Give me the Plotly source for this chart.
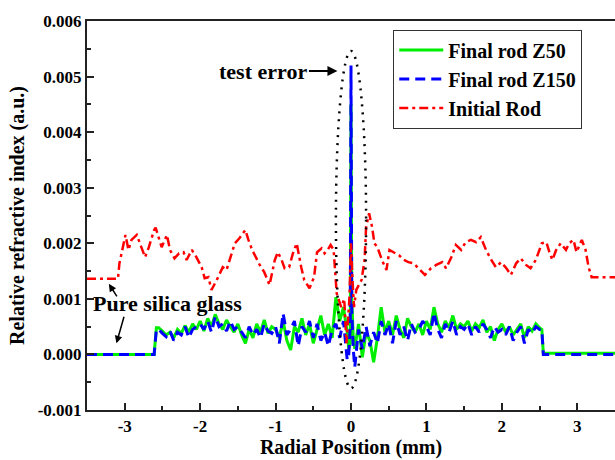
import numpy as np
import plotly.graph_objects as go

# ---------------- data (refractive index values in units of 1e-3) ----------------
rod_x = [-3.50, -2.61, -2.58,
         -2.55, -2.50, -2.45, -2.40, -2.35, -2.30, -2.25, -2.20, -2.15, -2.10, -2.05, -2.00,
         -1.95, -1.90, -1.85, -1.80, -1.75, -1.70, -1.65, -1.60, -1.55, -1.50,
         -1.45, -1.40, -1.35, -1.30, -1.25, -1.20, -1.15, -1.10, -1.05, -1.00,
         -0.95, -0.90, -0.85, -0.80, -0.75, -0.70, -0.65, -0.60, -0.55, -0.50,
         -0.45, -0.40, -0.35, -0.30, -0.25,
         -0.20, -0.15, -0.10, -0.05,
         -0.03, -0.01, 0.00, 0.01, 0.03,
         0.05, 0.10, 0.15, 0.20, 0.25, 0.30, 0.35, 0.40, 0.45,
         0.50, 0.55, 0.60, 0.65, 0.70, 0.75, 0.80, 0.85, 0.90, 0.95,
         1.00, 1.05, 1.10, 1.15, 1.20, 1.25, 1.30, 1.35, 1.40, 1.45,
         1.50, 1.55, 1.60, 1.65, 1.70, 1.75, 1.80, 1.85, 1.90, 1.95,
         2.00, 2.05, 2.10, 2.15, 2.20, 2.25, 2.30, 2.35, 2.40, 2.45, 2.50,
         2.53, 2.55, 3.50]

z50_vals = [0.0, 0.0, 0.48,
            0.48, 0.42, 0.35, 0.40, 0.30, 0.45, 0.38, 0.52, 0.40, 0.55, 0.45, 0.60,
            0.42, 0.65, 0.50, 0.72, 0.55, 0.45, 0.62, 0.50, 0.40, 0.55,
            0.35, 0.20, 0.45, 0.30, 0.55, 0.40, 0.62, 0.38, 0.50, 0.45,
            0.30, 0.60, 0.25, 0.08, 0.50, 0.40, 0.65, 0.35, 0.55, 0.20,
            0.45, 0.70, 0.35, 0.55, 0.30,
            1.03, 0.60, 0.85, 0.40,
            0.10, 0.20, 4.50, 1.00, 0.30,
            0.10, 0.55, -0.05, 0.40, 0.25, -0.14, 0.30, 0.85, 0.40,
            0.60, 0.35, 0.70, 0.45, 0.30, 0.65, 0.50, 0.40, 0.55, 0.35,
            0.60, 0.45, 0.85, 0.55, 0.40, 0.60, 0.48, 0.70, 0.45, 0.55,
            0.50, 0.60, 0.42, 0.55, 0.48, 0.62, 0.40, 0.50, 0.25, 0.45,
            0.55, 0.40, 0.50, 0.35, 0.45, 0.55, 0.30, 0.50, 0.42, 0.55, 0.48,
            0.45, 0.02, 0.02]

z150_vals = [0.0, 0.0, 0.45,
             0.45, 0.38, 0.32, 0.42, 0.25, 0.40, 0.35, 0.50, 0.30, 0.45, 0.50, 0.55,
             0.45, 0.60, 0.40, 0.68, 0.50, 0.55, 0.42, 0.60, 0.45, 0.50,
             0.40, 0.30, 0.50, 0.35, 0.45, 0.30, 0.55, 0.42, 0.38, 0.50,
             0.20, 0.74, 0.35, 0.45, 0.60, 0.15, 0.50, 0.40, 0.60, 0.30,
             0.55, 0.25, 0.40, 0.15, 0.45,
             0.55, 0.30, 0.60, -0.10,
             0.00, 0.50, 5.20, 0.80, 0.10,
             -0.23, 0.45, 0.10, 0.50, 0.15, 0.40, 0.20, 0.60, 0.35,
             0.55, 0.20, 0.60, 0.35, 0.50, 0.25, 0.55, 0.40, 0.45, 0.60,
             0.50, 0.35, 0.75, 0.45, 0.30, 0.55, 0.40, 0.60, 0.35, 0.50,
             0.45, 0.55, 0.35, 0.50, 0.40, 0.55, 0.45, 0.30, 0.50, 0.40,
             0.45, 0.35, 0.50, 0.25, 0.40, 0.50, 0.20, 0.45, 0.38, 0.50, 0.45,
             0.45, 0.00, 0.00]

red_x = [-3.50, -3.09, -3.07, -3.01, -2.99, -2.95, -2.91, -2.84, -2.80, -2.73,
         -2.68, -2.61, -2.59, -2.55, -2.51, -2.44, -2.40, -2.34, -2.28, -2.22,
         -2.18, -2.11, -2.05, -1.98, -1.94, -1.89, -1.85, -1.78, -1.70, -1.65,
         -1.54, -1.48, -1.40, -1.36, -1.31, -1.21, -1.15, -1.08, -1.01, -0.97,
         -0.92, -0.88, -0.82, -0.77, -0.72, -0.66, -0.62, -0.55, -0.49, -0.45,
         -0.39, -0.35, -0.31, -0.27, -0.23, -0.19, -0.13, -0.09, -0.06, -0.02,
         0.00, 0.02, 0.04, 0.07, 0.14, 0.18, 0.20, 0.24, 0.28, 0.31,
         0.35, 0.41, 0.47, 0.51, 0.57, 0.64, 0.70, 0.76, 0.83, 0.89,
         0.98, 1.06, 1.13, 1.21, 1.26, 1.33, 1.39, 1.46, 1.52, 1.59,
         1.66, 1.72, 1.79, 1.86, 1.92, 1.99, 2.06, 2.12, 2.19, 2.25,
         2.32, 2.38, 2.45, 2.53, 2.59, 2.63, 2.67, 2.72, 2.78, 2.85,
         2.89, 2.95, 2.99, 3.06, 3.11, 3.15, 3.19, 3.50]

red_vals = [1.36, 1.36, 1.64, 2.06, 2.15, 1.88, 2.06, 2.15, 2.00, 1.75,
            1.93, 2.24, 2.28, 2.11, 1.93, 2.15, 1.88, 1.73, 1.82, 1.84,
            1.70, 1.88, 1.75, 1.57, 1.37, 1.39, 1.16, 1.34, 1.57, 1.52,
            2.00, 2.09, 2.24, 2.06, 1.88, 1.61, 1.48, 1.25, 1.70, 1.84,
            1.70, 1.55, 1.57, 1.82, 2.00, 1.57, 1.34, 1.19, 1.39, 1.84,
            1.91, 1.82, 1.88, 1.97, 1.88, 1.10, 0.85, 1.00, 0.20, 1.03,
            2.00, 1.34, 0.85, 1.16, 1.34, 1.70, 2.29, 2.54, 2.29, 2.00,
            1.93, 1.70, 1.52, 1.88, 1.84, 1.78, 1.70, 1.66, 1.64, 1.55,
            1.43, 1.55, 1.61, 1.66, 1.55, 1.75, 1.97, 1.88, 2.02, 2.06,
            2.02, 2.11, 1.88, 1.70, 1.57, 1.66, 1.55, 1.43, 1.64, 1.73,
            1.61, 1.55, 1.70, 2.00, 2.02, 1.84, 1.70, 1.88, 2.00, 1.88,
            2.00, 2.06, 1.84, 2.06, 1.88, 1.57, 1.39, 1.39]

series_names = ["Final rod Z50", "Final rod Z150", "Initial Rod"]

x_tickvals = [-3, -2, -1, 0, 1, 2, 3]
x_ticktext = ["-3", "-2", "-1", "0", "1", "2", "3"]
y_tickvals = [-0.001, 0.000, 0.001, 0.002, 0.003, 0.004, 0.005, 0.006]
y_ticktext = ["-0.001", "0.000", "0.001", "0.002", "0.003", "0.004", "0.005", "0.006"]

SCALE = 1e-3
FONT = "Liberation Serif"

fig = go.Figure()
fig.add_trace(go.Scatter(x=rod_x, y=np.array(z50_vals) * SCALE, mode="lines",
                         name=series_names[0],
                         line=dict(color="#00ee00", width=3)))
fig.add_trace(go.Scatter(x=rod_x, y=np.array(z150_vals) * SCALE, mode="lines",
                         name=series_names[1],
                         line=dict(color="#0000ff", width=3, dash="10px,6px")))
fig.add_trace(go.Scatter(x=red_x, y=np.array(red_vals) * SCALE, mode="lines",
                         name=series_names[2],
                         line=dict(color="#ff0000", width=2.5, dash="9px,4px,3px,4px")))

# ellipse around the test error
fig.add_shape(type="circle", xref="x", yref="y", x0=-0.2, x1=0.2,
              y0=-0.00061, y1=0.00546,
              line=dict(color="black", width=2.5, dash="2px,6px"))

fig.add_annotation(x=-0.18, y=0.00510, xref="x", yref="y", text="test error",
                   showarrow=True, ax=-74, ay=0, arrowhead=2, arrowsize=1,
                   arrowwidth=2, arrowcolor="black",
                   font=dict(family=FONT, size=22, color="black", weight="bold"))
fig.add_annotation(x=-2.43, y=0.00092, xref="x", yref="y", text="Pure silica glass",
                   showarrow=False,
                   font=dict(family=FONT, size=22, color="black", weight="bold"))
fig.add_annotation(x=-3.21, y=0.00127, xref="x", yref="y", text="",
                   showarrow=True, ax=9, ay=14, arrowhead=2, arrowsize=1,
                   arrowwidth=1.5, arrowcolor="black", standoff=0)
fig.add_annotation(x=-3.11, y=0.00020, xref="x", yref="y", text="",
                   showarrow=True, ax=8, ay=-28, arrowhead=2, arrowsize=1,
                   arrowwidth=1.5, arrowcolor="black", standoff=0)

fig.update_layout(
    width=615, height=460,
    margin=dict(l=87, r=0, t=21, b=50),
    plot_bgcolor="white", paper_bgcolor="white",
    font=dict(family=FONT, size=17, color="black", weight="bold"),
    showlegend=True,
    legend=dict(x=0.58, y=0.978, xanchor="left", yanchor="top",
                bgcolor="white", bordercolor="#333333", borderwidth=1,
                font=dict(family=FONT, size=20, color="black", weight="bold"),
                tracegroupgap=0, itemwidth=44),
)

fig.update_xaxes(
    range=[-3.5, 3.5], showgrid=False, zeroline=False,
    showline=True, linecolor="#222222", linewidth=2, mirror=True,
    ticks="inside", ticklen=7, tickwidth=1.5, tickcolor="#222222",
    tickvals=x_tickvals, ticktext=x_ticktext,
    tickfont=dict(family=FONT, size=17, color="black", weight="bold"),
    minor=dict(ticks="inside", ticklen=4, tickwidth=1.5, tickcolor="#222222", dtick=0.5, tick0=0),
    title=dict(text="Radial Position (mm)", standoff=4,
               font=dict(family=FONT, size=20, color="black", weight="bold")),
)
fig.update_yaxes(
    range=[-0.001, 0.006], showgrid=False, zeroline=False,
    showline=True, linecolor="#222222", linewidth=2, mirror=False,
    ticks="inside", ticklen=7, tickwidth=1.5, tickcolor="#222222",
    tickvals=y_tickvals, ticktext=y_ticktext,
    tickfont=dict(family=FONT, size=17, color="black", weight="bold"),
    minor=dict(ticks="inside", ticklen=4, tickwidth=1.5, tickcolor="#222222", dtick=0.0005, tick0=0),
    title=dict(text="Relative refractive index (a.u.)", standoff=8,
               font=dict(family=FONT, size=20, color="black", weight="bold")),
)

fig.write_html("out.html", config={"displayModeBar": False},
               post_script="document.body.style.margin='0px';document.body.style.overflow='hidden';")
